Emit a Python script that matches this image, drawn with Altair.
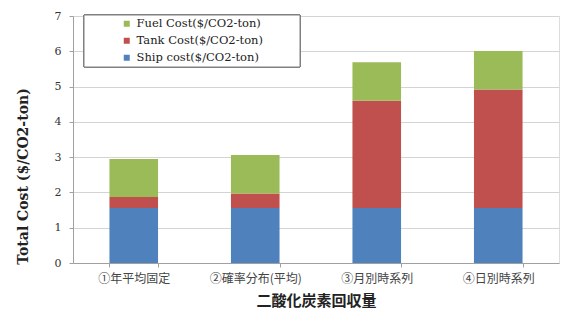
import altair as alt
import pandas as pd

# Recovery-volume scenarios on the x axis
categories = ["①年平均固定", "②確率分布(平均)", "③月別時系列", "④日別時系列"]

# Cost components ($/CO2-ton), stacked bottom to top: ship, tank, fuel
ship_cost = [1.56, 1.56, 1.56, 1.56]
tank_cost = [0.31, 0.41, 3.04, 3.36]
fuel_cost = [1.08, 1.09, 1.09, 1.09]

series_names = ["Fuel Cost($/CO2-ton)", "Tank Cost($/CO2-ton)", "Ship cost($/CO2-ton)"]
series_colors = ["#9BBB59", "#C0504D", "#4F81BD"]

rows = []
for i, cat in enumerate(categories):
    rows.append({"category": cat, "series": series_names[2], "value": ship_cost[i], "stack": 0})
    rows.append({"category": cat, "series": series_names[1], "value": tank_cost[i], "stack": 1})
    rows.append({"category": cat, "series": series_names[0], "value": fuel_cost[i], "stack": 2})
df = pd.DataFrame(rows)

serif = "DejaVu Serif"
cjk = "Noto Sans CJK JP"

bars = alt.Chart(df).mark_bar().encode(
    x=alt.X(
        "category:N",
        sort=categories,
        scale=alt.Scale(paddingInner=0.6, paddingOuter=0.3),
        axis=alt.Axis(
            title="二酸化炭素回収量",
            titleFont=cjk,
            titleFontSize=15,
            titleFontWeight="bold",
            titleColor="#222222",
            titlePadding=9,
            labelFont=cjk,
            labelFontSize=12,
            labelColor="#444444",
            labelPadding=6,
            labelAngle=0,
            tickBand="extent",
            tickSize=4,
            tickColor="#a0a0a0",
            domainColor="#a0a0a0",
            grid=False,
        ),
    ),
    y=alt.Y(
        "value:Q",
        stack="zero",
        scale=alt.Scale(domain=[0, 7], nice=False),
        axis=alt.Axis(
            title="Total Cost ($/CO2-ton)",
            titleFont=serif,
            titleFontSize=14,
            titleFontWeight="bold",
            titleColor="#222222",
            titleAngle=-90,
            titleX=-50,
            titleY=160,
            titleAlign="center",
            titleBaseline="middle",
            labelFont=serif,
            labelFontSize=11,
            labelColor="#333333",
            labelPadding=8,
            labelOverlap=False,
            values=[0, 1, 2, 3, 4, 5, 6, 7],
            tickSize=4,
            tickColor="#a0a0a0",
            domainColor="#a0a0a0",
            gridColor="#d4d4d4",
        ),
    ),
    color=alt.Color(
        "series:N",
        scale=alt.Scale(domain=series_names, range=series_colors),
        legend=alt.Legend(
            title=None,
            orient="none",
            legendX=48,
            legendY=2,
            symbolType="square",
            symbolSize=36,
            symbolStrokeWidth=0,
            labelFont=serif,
            labelFontSize=11.5,
            labelColor="#222222",
            labelOffset=4,
            rowPadding=4,
            padding=0,
            offset=0,
            labelLimit=300,
        ),
    ),
    order=alt.Order("stack:Q", sort="ascending"),
)

# Framed white box behind the legend entries
legend_frame = alt.Chart(df).mark_rect(
    fill="white", stroke="#808080", strokeWidth=1
).encode(
    x=alt.value(11),
    x2=alt.value(227),
    y=alt.value(-1),
    y2=alt.value(51),
)

chart = alt.layer(bars, legend_frame).properties(
    width=486,
    height=247,
    autosize=alt.AutoSizeParams(type="none"),
    padding={"left": 73, "top": 16, "right": 2, "bottom": 57},
).configure_view(
    stroke="#a0a0a0",
    strokeWidth=1,
).configure(
    background="white",
    font=serif,
)

chart.save("out.html", embed_options={"renderer": "svg", "actions": False})
